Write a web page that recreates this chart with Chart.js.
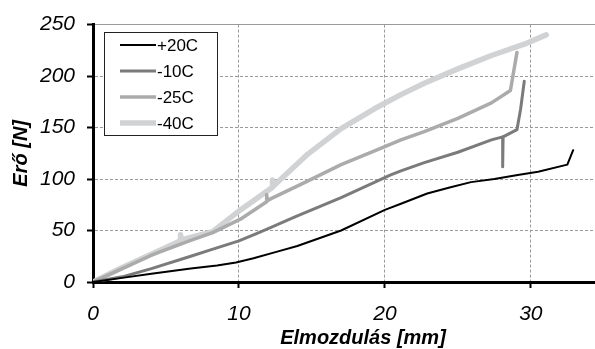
<!DOCTYPE html>
<html>
<head>
<meta charset="utf-8">
<script src="https://cdn.jsdelivr.net/npm/chart.js@4.4.1/dist/chart.umd.min.js"></script>
<style>
  html, body { margin: 0; padding: 0; background: #fff; overflow: hidden; width: 595px; height: 349px; }
  #wrap { width: 633px; height: 349px; }
</style>
</head>
<body>
<div id="wrap"><canvas id="c" width="633" height="349"></canvas></div>
<script>
// ---- data ----
const seriesLabels = ['+20C', '-10C', '-25C', '-40C'];

const x20 = [0, 2, 4, 6.7, 8.5, 9.8, 11, 12.5, 14, 17, 20, 21.1, 22.9, 24.5, 25.9, 27.5, 29.1, 30.5, 32.5, 32.9];
const y20 = [0, 4, 8, 13, 16, 19, 23, 29, 35, 50, 70, 76, 86, 92, 97, 100, 104, 107, 114, 128];

const x10 = [0, 2, 4, 6.7, 8, 10, 11.2, 12.2, 13.8, 17, 20.4, 21.1, 22.7, 25, 27.3, 28.07, 28.07, 28.1, 29.05, 29.3, 29.55];
const y10 = [0, 5, 13, 25, 31, 40, 47, 53, 63, 82, 104, 108, 116, 126, 138, 141, 112, 141, 148, 168, 195];

const x25 = [0, 2, 4, 6.6, 8.2, 10.1, 11.9, 11.9, 11.95, 12.2, 14.7, 17, 19.25, 21.1, 22.7, 25, 27.3, 28.6, 29.05];
const y25 = [0, 13, 26, 40, 48, 61, 78, 85, 79, 81, 98, 114, 127, 138, 146, 159, 174, 186, 223];

const x40 = [0, 2, 4, 6, 6, 6.05, 8.2, 10.1, 12.3, 12.3, 12.35, 14.7, 17, 19.25, 21.1, 22.7, 25, 27.3, 29.55, 31.05];
const y40 = [0, 14, 27, 40, 46, 41, 49, 70, 92, 99, 93, 124, 149, 168, 182, 193, 207, 220, 231, 240];

const xTicks = [0, 10, 20, 30];
const yTicks = [0, 50, 100, 150, 200, 250];
const xTitle = 'Elmozdulás [mm]';
const yTitle = 'Erő [N]';

// ---- build chart ----
const pts = (xs, ys) => xs.map((x, i) => ({x: x, y: ys[i]}));
const colors = ['#000000', '#7b7b7b', '#ababab', '#d0d2d4'];
const widths = [2, 3, 3.5, 5.5];
const seriesData = [[x20, y20], [x10, y10], [x25, y25], [x40, y40]];

const datasets = seriesData.map((s, i) => ({
  label: seriesLabels[i],
  data: pts(s[0], s[1]),
  borderColor: colors[i],
  backgroundColor: colors[i],
  borderWidth: widths[i],
  pointRadius: 0,
  tension: 0,
  fill: false,
  borderJoinStyle: 'round',
  borderCapStyle: 'round'
}));

const FONT = "'Liberation Sans', Arial, sans-serif";

const legendBox = {
  id: 'legendBox',
  afterDatasetsDraw(chart) {
    const ctx = chart.ctx;
    ctx.save();
    ctx.fillStyle = '#ffffff';
    ctx.fillRect(104.5, 32.5, 113, 103);
    ctx.strokeStyle = '#222222';
    ctx.lineWidth = 1;
    ctx.strokeRect(104.5, 32.5, 113, 103);
    const rows = [45, 71, 97, 123];
    chart.data.datasets.forEach((ds, i) => {
      ctx.beginPath();
      ctx.strokeStyle = ds.borderColor;
      ctx.lineWidth = ds.borderWidth;
      ctx.lineCap = 'butt';
      ctx.moveTo(120, rows[i]);
      ctx.lineTo(156, rows[i]);
      ctx.stroke();
      ctx.fillStyle = '#000';
      ctx.font = "17px " + FONT;
      ctx.textBaseline = 'middle';
      ctx.textAlign = 'left';
      ctx.fillText(ds.label, 157, rows[i] + 1);
    });
    ctx.restore();
  }
};

new Chart(document.getElementById('c'), {
  type: 'line',
  data: { datasets: datasets },
  options: {
    responsive: false,
    animation: false,
    devicePixelRatio: 1,
    layout: { padding: { top: 22, right: 0, bottom: 0, left: 0 } },
    plugins: { legend: { display: false }, tooltip: { enabled: false } },
    scales: {
      x: {
        type: 'linear',
        min: 0,
        max: 37,
        afterBuildTicks: (s) => { s.ticks = xTicks.map(v => ({value: v})); },
        afterFit: (s) => { s.height = 67; },
        ticks: {
          color: '#000',
          padding: 14,
          maxRotation: 0,
          font: { family: FONT, size: 21, style: 'italic' }
        },
        grid: {
          color: '#9a9a9a',
          lineWidth: 1,
          tickColor: '#000',
          tickWidth: 2,
          tickLength: 6,
          drawTicks: true
        },
        border: { display: true, color: '#000', width: 3, dash: [3, 2] },
        title: {
          display: true,
          text: xTitle,
          color: '#000',
          padding: { top: 0, bottom: 0 },
          font: { family: FONT, size: 20, style: 'italic', weight: 'bold', lineHeight: 1.1 }
        }
      },
      y: {
        min: 0,
        max: 250,
        afterBuildTicks: (s) => { s.ticks = yTicks.map(v => ({value: v})); },
        afterFit: (s) => { s.width = 93; },
        ticks: {
          color: '#000',
          padding: 12,
          font: { family: FONT, size: 21, style: 'italic' }
        },
        grid: {
          color: '#9a9a9a',
          lineWidth: 1,
          tickColor: '#000',
          tickWidth: 2,
          tickLength: 6,
          drawTicks: true
        },
        border: {
          display: true, color: '#000', width: 3,
          dash: (ctx) => (ctx.tick && ctx.tick.value === 250) ? [] : [3, 2]
        },
        title: {
          display: true,
          text: yTitle,
          color: '#000',
          padding: { top: 9, bottom: 0 },
          font: { family: FONT, size: 20, style: 'italic', weight: 'bold', lineHeight: 1.2 }
        }
      }
    }
  },
  plugins: [legendBox]
});
</script>
</body>
</html>
